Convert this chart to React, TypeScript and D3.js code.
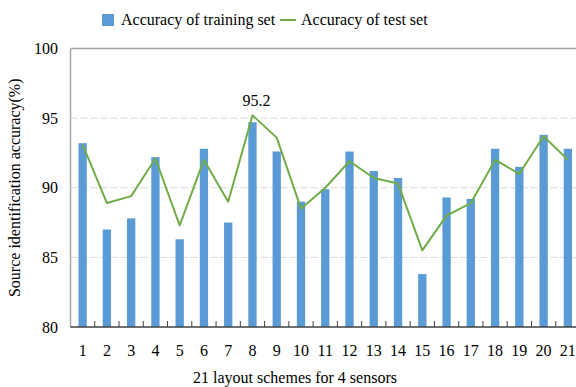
import React from "react";
import * as d3 from "d3";

const categories = Array.from({ length: 21 }, (_, i) => String(i + 1));
const trainingAccuracy = [93.2, 87.0, 87.8, 92.2, 86.3, 92.8, 87.5, 94.7, 92.6, 89.0, 89.9, 92.6, 91.2, 90.7, 83.8, 89.3, 89.2, 92.8, 91.5, 93.8, 92.8];
const testAccuracy = [93.1, 88.9, 89.4, 92.1, 87.3, 92.0, 89.0, 95.2, 93.6, 88.5, 90.0, 91.9, 90.7, 90.3, 85.5, 88.0, 88.9, 92.0, 91.0, 93.7, 92.0];
const yTicks = [80, 85, 90, 95, 100];
const peakLabel = "95.2";

const W = 576;
const H = 387;
const font = "Liberation Serif, Times New Roman, serif";

export default function App() {
  const left = 70.5;
  const right = 580;
  const top = 48.5;
  const bottom = 327;
  const x = d3.scaleBand<string>().domain(categories).range([left, right]).paddingInner(0).paddingOuter(0);
  const y = d3.scaleLinear().domain([80, 100]).range([bottom, top]);
  const bw = 8.3;
  const cx = (c: string) => (x(c) as number) + x.bandwidth() / 2;
  const line = d3
    .line<number>()
    .x((_, i) => cx(categories[i]))
    .y((d) => y(d));
  const peakIdx = testAccuracy.indexOf(d3.max(testAccuracy) as number);
  const ts: React.CSSProperties = { fontFamily: font, fontSize: "16px" };

  return (
    <svg width={W} height={H} style={{ position: "absolute", left: 0, top: 0, background: "#fff", fontFamily: font }}>
      {yTicks.filter((t) => t > 80 && t < 100).map((t) => (
        <line key={t} x1={left} x2={W} y1={y(t)} y2={y(t)} stroke="#d9d9d9" strokeWidth={1} strokeDasharray="7 3" />
      ))}
      <line x1={left} x2={W} y1={y(100)} y2={y(100)} stroke="#a6a6a6" strokeWidth={1.5} />
      {trainingAccuracy.map((v, i) => (
        <rect key={i} x={cx(categories[i]) - bw / 2} y={y(v)} width={bw} height={bottom - y(v)} fill="#5B9BD5" />
      ))}
      <path d={line(testAccuracy) as string} fill="none" stroke="#70AD47" strokeWidth={2} strokeLinejoin="round" />
      <line x1={left} x2={left} y1={top} y2={bottom} stroke="#a6a6a6" strokeWidth={1.5} />
      <line x1={left} x2={W} y1={bottom} y2={bottom} stroke="#404040" strokeWidth={1.5} />
      {categories.slice(1).map((c) => (
        <line key={c} x1={x(c) as number} x2={x(c) as number} y1={bottom} y2={bottom - 6} stroke="#404040" strokeWidth={1} />
      ))}
      {yTicks.map((t) => (
        <text key={t} x={58} y={y(t)} dy="0.35em" textAnchor="end" style={ts} fill="#000">
          {t}
        </text>
      ))}
      {categories.map((c) => (
        <text key={c} x={cx(c)} y={356} textAnchor="middle" style={ts} fill="#000">
          {c}
        </text>
      ))}
      <text x={295} y={383} textAnchor="middle" style={ts} fill="#000">
        21 layout schemes for 4 sensors
      </text>
      <text transform={`translate(20, ${(top + bottom) / 2}) rotate(-90)`} textAnchor="middle" style={ts} fill="#000">
        Source identification accuracy(%)
      </text>
      <text x={cx(categories[peakIdx]) + 4} y={106} textAnchor="middle" style={ts} fill="#000">
        {peakLabel}
      </text>
      <rect x={102} y={14} width={12} height={12} fill="#5B9BD5" />
      <text x={121} y={25} style={ts} fill="#000">Accuracy of training set</text>
      <line x1={280} x2={296} y1={20} y2={20} stroke="#70AD47" strokeWidth={2} />
      <text x={301} y={25} style={ts} fill="#000">Accuracy of test set</text>
    </svg>
  );
}
